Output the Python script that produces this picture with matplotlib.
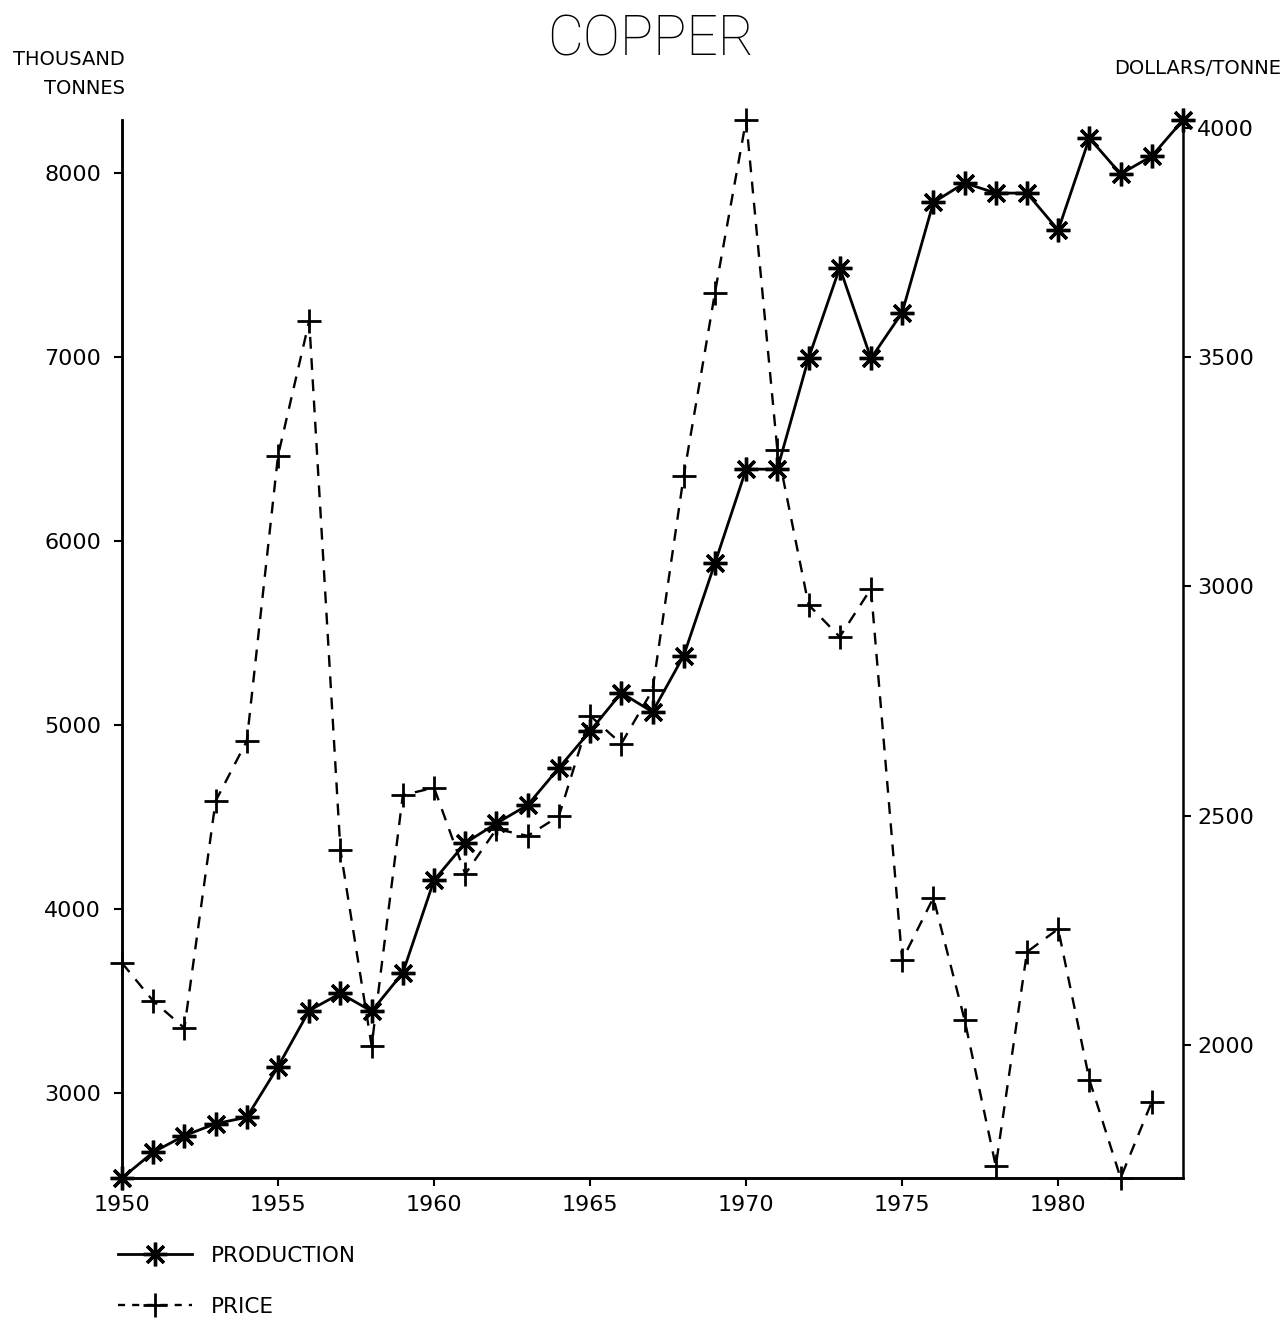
#!/usr/bin/env python3
"""
Copper production and price, 1950-1984 (plotter style chart)
"""

import matplotlib
matplotlib.use("Agg")
import matplotlib.pyplot as plt
from matplotlib.lines import Line2D

# Data
years = list(range(1950, 1985))
production = [2540, 2680, 2770, 2835, 2870, 3145, 3450, 3543, 3446, 3655,
              4158, 4360, 4467, 4566, 4768, 4968, 5176, 5072, 5378, 5880,
              6391, 6391, 6993, 7486, 6993, 7242, 7840, 7946, 7891, 7891,
              7690, 8190, 7995, 8092, 8288]

price_years = list(range(1950, 1984))
price = [2179, 2096, 2037, 2532, 2663, 3285, 3579, 2425, 1998, 2545,
         2561, 2373, 2471, 2456, 2499, 2718, 2657, 2774, 3241, 3640,
         4017, 3298, 2960, 2890, 2995, 2185, 2321, 2055, 1736, 2203,
         2253, 1924, 1710, 1876]

left_ticks = [3000, 4000, 5000, 6000, 7000, 8000]
right_ticks = [2000, 2500, 3000, 3500, 4000]
year_ticks = [1950, 1955, 1960, 1965, 1970, 1975, 1980]

plt.rcParams['font.family'] = ['DejaVu Sans']

fig = plt.figure(figsize=(12.88, 13.19), dpi=100)
ax1 = fig.add_axes([0.0947, 0.1069, 0.8238, 0.8021])
ax2 = ax1.twinx()

star = (8, 2, 0)

# Production (left axis)
ax1.plot(years, production, color='black', linewidth=2.0, marker=star,
         markersize=17, markeredgewidth=2.4, clip_on=False, zorder=3)

# Price (right axis)
ax2.plot(price_years, price, color='black', linewidth=1.7,
         linestyle=(0, (5, 4)), marker='+', markersize=17,
         markeredgewidth=2.0, clip_on=False, zorder=3)

ax1.set_xlim(1950, 1984)
ax1.set_ylim(min(production), max(production))
ax2.set_ylim(min(price), max(price))

ax1.set_xticks(year_ticks)
ax1.set_yticks(left_ticks)
ax2.set_yticks(right_ticks)

for ax in (ax1, ax2):
    ax.spines['top'].set_visible(False)
    for s in ax.spines.values():
        s.set_linewidth(1.8)
ax1.spines['right'].set_visible(False)

ax1.tick_params(axis='both', direction='out', length=6, width=1.5,
                labelsize=16, pad=9)
ax1.tick_params(axis='x', pad=6)
ax2.tick_params(axis='y', direction='out', length=6, width=1.5,
                labelsize=16, pad=4)

# Titles and axis captions
fig.text(0.505, 0.970, 'COPPER', ha='center', va='center', fontsize=40,
         family=['Roboto', 'DejaVu Sans'], fontweight='light')
fig.text(0.097, 0.955, 'THOUSAND', ha='right', va='center', fontsize=14)
fig.text(0.097, 0.933, 'TONNES', ha='right', va='center', fontsize=14)
fig.text(0.995, 0.948, 'DOLLARS/TONNE', ha='right', va='center', fontsize=14)

# Legend below the chart
handles = [
    Line2D([], [], color='black', linewidth=2.0, marker=star, markersize=17,
           markeredgewidth=2.4),
    Line2D([], [], color='black', linewidth=1.7, linestyle=(0, (3, 3)),
           marker='+', markersize=17, markeredgewidth=2.0),
]
fig.legend(handles, ['PRODUCTION', 'PRICE'], loc='upper left',
           bbox_to_anchor=(0.092, 0.0555), frameon=False, fontsize=15.5,
           numpoints=1, handlelength=3.4, handletextpad=0.9,
           labelspacing=1.45, borderpad=0, borderaxespad=0)

plt.savefig('out.png', dpi=100)
